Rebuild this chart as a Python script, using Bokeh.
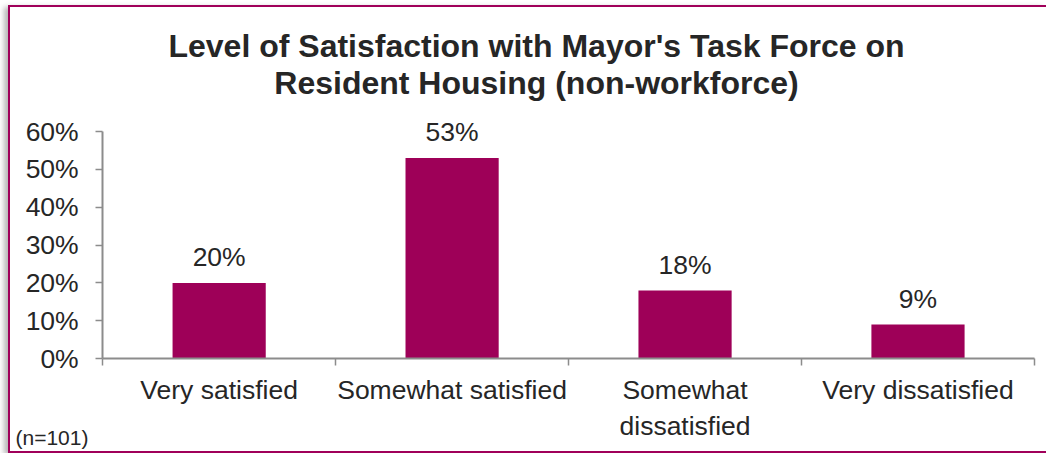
from bokeh.plotting import figure
from bokeh.models import Range1d, FixedTicker, PrintfTickFormatter, LabelSet, Label, ColumnDataSource, LinearAxis
from bokeh.core.properties import value
from bokeh.embed import file_html
from bokeh.resources import INLINE

# ---- data ----
categories = ["Very satisfied", "Somewhat satisfied", "Somewhat\ndissatisfied", "Very dissatisfied"]
values = [20, 53, 18, 9]
value_labels = ["20%", "53%", "18%", "9%"]
y_ticks = [0, 10, 20, 30, 40, 50, 60]
title_lines = ["Level of Satisfaction with Mayor's Task Force on", "Resident Housing (non-workforce)"]
note = "(n=101)"

BAR = "#9E0058"
TXT = "#262626"
AX = "#8C8C8C"
FONT = "Liberation Sans"

W, H = 1036, 444            # canvas (content box); CSS border added outside
CW, CH = W, H
n = len(categories)
YMAX = 60

# canvas pixel geometry of the chart frame (axis origin and scale)
X0, UX = 92.0, 232.5        # px of x=0, px per category
Y0, UY = 348.0, 3.75        # px (from top) of y=0, px per percent

x_start = -X0 / UX
x_end = (CW - X0) / UX
y_start = -(CH - Y0) / UY
y_end = Y0 / UY

p = figure(width=W, height=H, output_backend="svg", toolbar_location=None,
           x_range=Range1d(x_start, x_end), y_range=Range1d(y_start, y_end),
           min_border=0, x_axis_location=None, y_axis_location=None)
p.styles = {"border-left": "2px solid #A0005A", "border-top": "2px solid #A0005A",
            "border-bottom": "2px solid #A0005A", "box-sizing": "content-box",
            "margin-left": "8px", "margin-top": "5px",
            "box-shadow": "-4px 2px 5px rgba(0,0,0,0.28)", "background": "white"}
p.outline_line_color = None
p.grid.grid_line_color = None
p.background_fill_color = "white"
p.border_fill_color = "white"

xs = [i + 0.5 for i in range(n)]
src = ColumnDataSource(dict(x=xs, top=values, lab=value_labels))
p.vbar(x="x", top="top", width=0.4, bottom=0, source=src, fill_color=BAR, line_color=None)

ls = LabelSet(x="x", y="top", text="lab", source=src, y_offset=17, text_align="center",
              text_baseline="alphabetic", text_font=value(FONT), text_font_size=value("26.5px"),
              text_color=TXT)
p.add_layout(ls)

# x axis
xa = LinearAxis(fixed_location=0, bounds=(0, n))
xa.ticker = FixedTicker(ticks=xs, minor_ticks=list(range(n + 1)))
xa.major_label_overrides = {x: c for x, c in zip(xs, categories)}
xa.major_tick_line_color = None
xa.major_tick_out = 0
xa.major_tick_in = 0
xa.minor_tick_line_color = AX
xa.minor_tick_line_width = 1.5
xa.minor_tick_out = 7
xa.minor_tick_in = 0
xa.axis_line_color = AX
xa.axis_line_width = 2
xa.major_label_standoff = 9
xa.major_label_text_font = FONT
xa.major_label_text_font_size = "26.5px"
xa.major_label_text_color = TXT
p.add_layout(xa, "below")

# y axis
ya = LinearAxis(fixed_location=0, bounds=(0, YMAX))
ya.ticker = FixedTicker(ticks=y_ticks, minor_ticks=[])
ya.formatter = PrintfTickFormatter(format="%d%%")
ya.major_tick_line_color = AX
ya.major_tick_line_width = 1.5
ya.major_tick_out = 7
ya.major_tick_in = 0
ya.minor_tick_line_color = None
ya.axis_line_color = AX
ya.axis_line_width = 2
ya.major_label_standoff = 17
ya.major_label_text_font = FONT
ya.major_label_text_font_size = "26.5px"
ya.major_label_text_color = TXT
p.add_layout(ya, "left")

def dx(px):
    return (px - X0) / UX
def dy(py):
    return (Y0 - py) / UY

for line, by in zip(title_lines, [38, 75]):
    p.add_layout(Label(x=dx(525), y=dy(by), text=line, text_align="center", text_baseline="alphabetic",
                       text_font=FONT, text_font_size="32px", text_font_style="bold", text_color=TXT))

p.add_layout(Label(x=dx(5), y=dy(426), text=note, text_align="left", text_baseline="alphabetic",
                   text_font=FONT, text_font_size="21px", text_color=TXT))

open("out.html", "w").write(file_html(p, INLINE))
